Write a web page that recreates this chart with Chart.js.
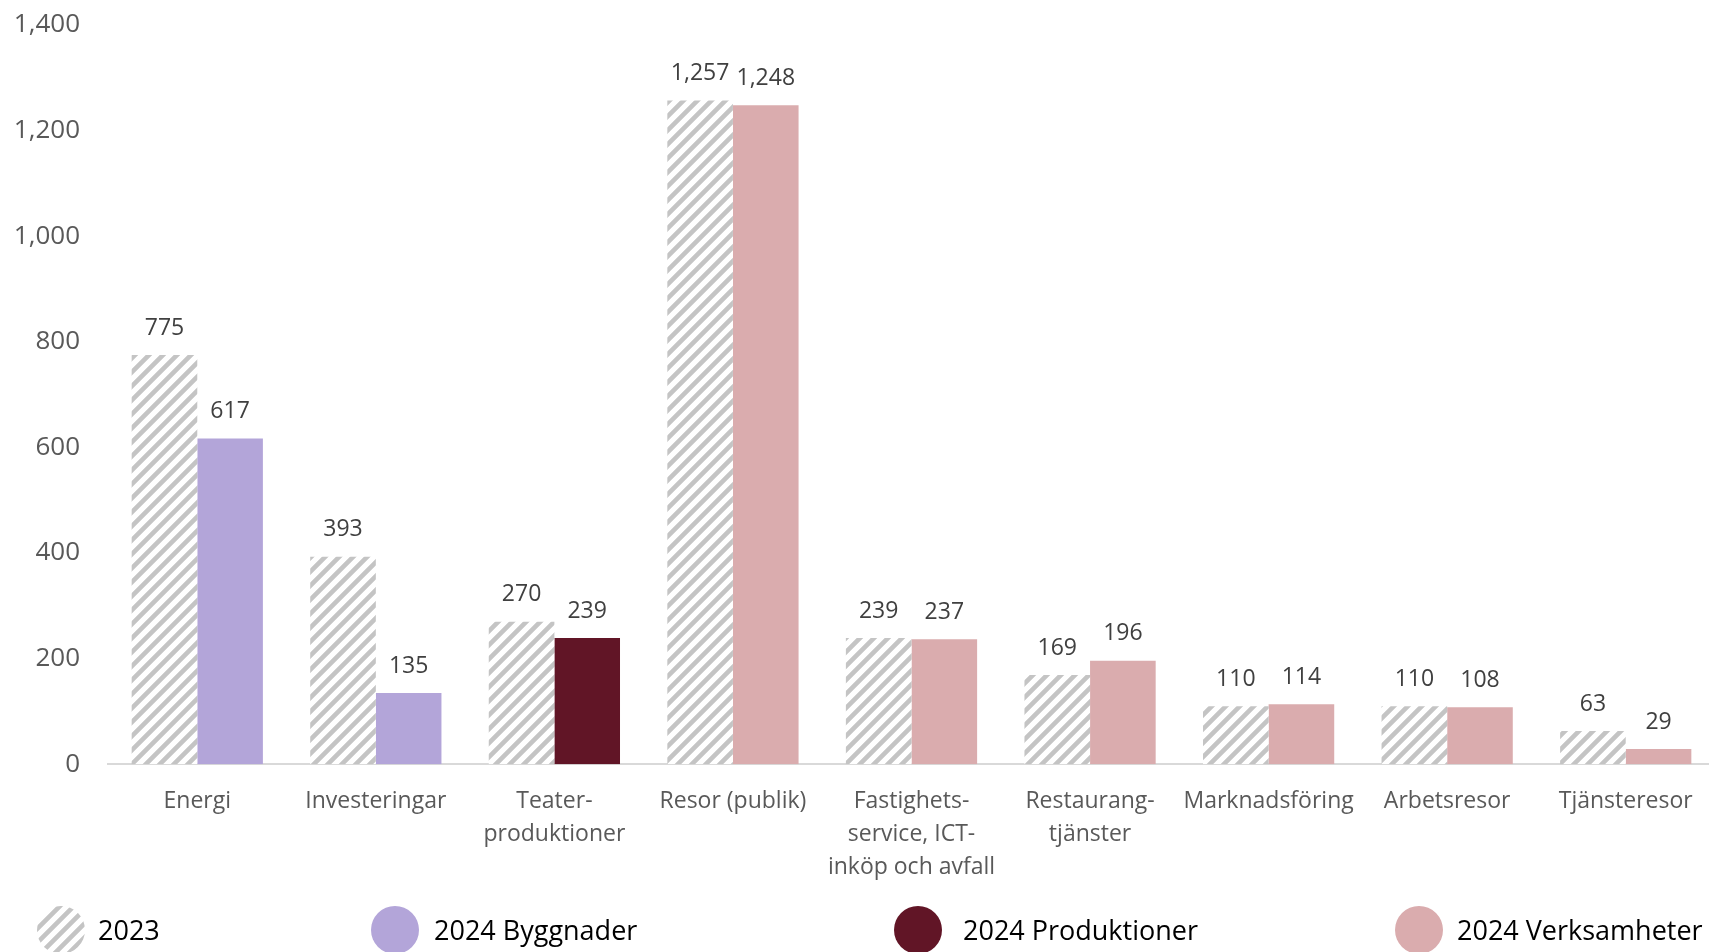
<!DOCTYPE html>
<html>
<head>
<meta charset="utf-8">
<script src="https://cdn.jsdelivr.net/npm/chart.js@4.4.1/dist/chart.umd.min.js"></script>
<style>
  html, body { margin: 0; padding: 0; background: #ffffff; overflow: hidden; }
  #outer { width: 1709px; height: 952px; overflow: hidden; }
  #wrap { position: relative; width: 1715px; height: 952px; }
</style>
</head>
<body>
<div id="outer"><div id="wrap"><canvas id="c"></canvas></div></div>
<script>
const categories = [
  'Energi',
  'Investeringar',
  ['Teater-', 'produktioner'],
  'Resor (publik)',
  ['Fastighets-', 'service, ICT-', 'inköp och avfall'],
  ['Restaurang-', 'tjänster'],
  'Marknadsföring',
  'Arbetsresor',
  'Tjänsteresor'
];
const seriesNames = ['2023', '2024 Byggnader', '2024 Produktioner', '2024 Verksamheter'];
const values2023 = [775, 393, 270, 1257, 239, 169, 110, 110, 63];
const values2024Byggnader = [617, 135, null, null, null, null, null, null, null];
const values2024Produktioner = [null, null, 239, null, null, null, null, null, null];
const values2024Verksamheter = [null, null, null, 1248, 237, 196, 114, 108, 29];
const yTicks = [0, 200, 400, 600, 800, 1000, 1200, 1400];

const FONT = "'Open Sans', 'Noto Sans', sans-serif";
const colByggnader = '#b3a5d9';
const colProduktioner = '#611526';
const colVerksamheter = '#daacae';

function makeHatch() {
  const s = 14;
  const c = document.createElement('canvas');
  c.width = s; c.height = s;
  const g = c.getContext('2d');
  g.fillStyle = '#ffffff';
  g.fillRect(0, 0, s, s);
  g.strokeStyle = '#c4c4c4';
  g.lineWidth = 4.6;
  g.beginPath();
  [0, s, 2 * s].forEach(k => {
    g.moveTo(k - s - 2, s + 2);
    g.lineTo(k + 2, -2);
  });
  g.stroke();
  return g.createPattern(c, 'repeat');
}
const hatch = makeHatch();

const fmt = v => Number(v).toLocaleString('en-US');

const valueLabels = {
  id: 'valueLabels',
  afterDatasetsDraw(chart) {
    const ctx = chart.ctx;
    ctx.save();
    ctx.font = "23px " + FONT;
    ctx.fillStyle = '#404040';
    ctx.textAlign = 'center';
    ctx.textBaseline = 'middle';
    chart.data.datasets.forEach((ds, di) => {
      const meta = chart.getDatasetMeta(di);
      meta.data.forEach((el, i) => {
        const v = ds.data[i];
        if (v === null || v === undefined) return;
        ctx.fillText(fmt(v), el.x, el.y - 27);
      });
    });
    ctx.restore();
  }
};

const customLegend = {
  id: 'customLegend',
  afterDraw(chart, args, opts) {
    const ctx = chart.ctx;
    const cy = chart.height - opts.fromBottom;
    ctx.save();
    chart.data.datasets.forEach((ds, i) => {
      const cx = opts.centers[i];
      ctx.beginPath();
      ctx.arc(cx, cy, opts.radius, 0, Math.PI * 2);
      ctx.fillStyle = ds.legendColor;
      ctx.fill();
      ctx.font = opts.fontSize + "px " + FONT;
      ctx.fillStyle = '#000000';
      ctx.textAlign = 'left';
      ctx.textBaseline = 'middle';
      ctx.fillText(ds.label, opts.textX[i], cy + 2);
    });
    ctx.restore();
  }
};

const ctx = document.getElementById('c').getContext('2d');
new Chart(ctx, {
  type: 'bar',
  data: {
    labels: categories,
    datasets: [
      { label: seriesNames[0], data: values2023, backgroundColor: hatch, legendColor: hatch, stack: 'a' },
      { label: seriesNames[1], data: values2024Byggnader, backgroundColor: colByggnader, legendColor: colByggnader, stack: 'b' },
      { label: seriesNames[2], data: values2024Produktioner, backgroundColor: colProduktioner, legendColor: colProduktioner, stack: 'b' },
      { label: seriesNames[3], data: values2024Verksamheter, backgroundColor: colVerksamheter, legendColor: colVerksamheter, stack: 'b' }
    ]
  },
  options: {
    responsive: true,
    maintainAspectRatio: false,
    animation: false,
    layout: { padding: { top: 25, right: 0, bottom: 47, left: 0 } },
    datasets: { bar: { barPercentage: 1.0, categoryPercentage: 0.735, borderWidth: 0 } },
    plugins: {
      legend: { display: false },
      tooltip: { enabled: false },
      customLegend: { centers: [61, 395, 918, 1419], textX: [98, 434, 963, 1457], radius: 24, fromBottom: 22, fontSize: 27 }
    },
    scales: {
      x: {
        stacked: true,
        grid: { display: false, drawTicks: false },
        border: { display: true, color: '#d9d9d9', width: 2 },
        ticks: {
          color: '#595959',
          font: { family: FONT, size: 23, lineHeight: 1.43 },
          padding: 21,
          maxRotation: 0,
          autoSkip: false
        }
      },
      y: {
        stacked: true,
        min: 0,
        max: 1400,
        afterBuildTicks: scale => { scale.ticks = yTicks.map(v => ({ value: v })); },
        afterFit: scale => { scale.width = 108; },
        grid: { display: false, drawTicks: true, tickLength: 28 },
        border: { display: false },
        ticks: {
          color: '#595959',
          font: { family: FONT, size: 26 },
          padding: 0,
          callback: v => fmt(v)
        }
      }
    }
  },
  plugins: [valueLabels, customLegend]
});
</script>
</body>
</html>
